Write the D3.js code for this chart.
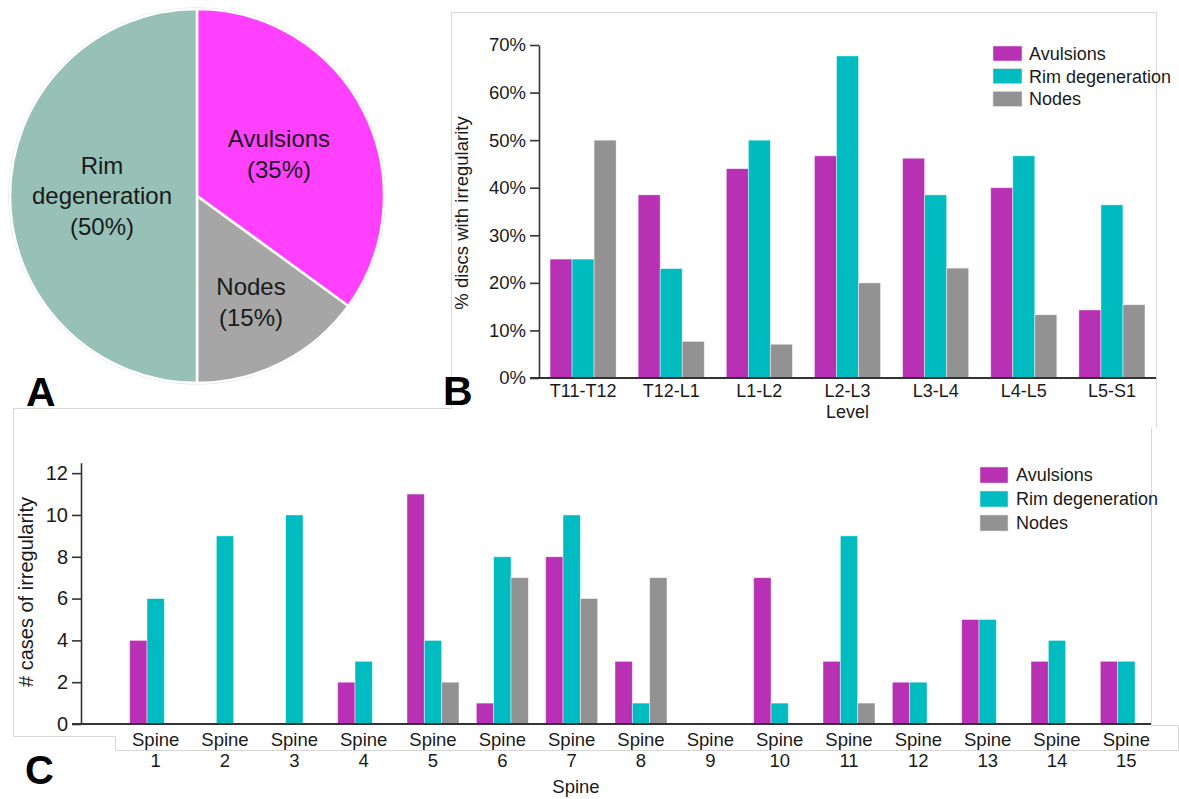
<!DOCTYPE html>
<html><head><meta charset="utf-8">
<script src="https://cdn.jsdelivr.net/npm/d3@7"></script>
<style>
body{margin:0;background:#fff}
text{font-family:"Liberation Sans",Arial,Helvetica,sans-serif;fill:#1a1a1a}
</style>
</head><body>
<svg id="chart" width="1179" height="799"></svg>
<script>
// ---------- data ----------
const pieCategories = ["Avulsions", "Nodes", "Rim degeneration"];
const pieValues = [35, 15, 50];
const pieLabelLines = [["Avulsions", "(35%)"], ["Nodes", "(15%)"], ["Rim", "degeneration", "(50%)"]];

const seriesNames = ["Avulsions", "Rim degeneration", "Nodes"];

const levels = ["T11-T12", "T12-L1", "L1-L2", "L2-L3", "L3-L4", "L4-L5", "L5-S1"];
const levelAvulsions = [0.25, 0.385, 0.44, 0.467, 0.462, 0.40, 0.143];
const levelRim = [0.25, 0.23, 0.50, 0.677, 0.385, 0.467, 0.364];
const levelNodes = [0.50, 0.077, 0.071, 0.20, 0.231, 0.133, 0.154];
const levelTicks = [0, 0.1, 0.2, 0.3, 0.4, 0.5, 0.6, 0.7];

const spines = ["1", "2", "3", "4", "5", "6", "7", "8", "9", "10", "11", "12", "13", "14", "15"];
const spineAvulsions = [4, 0, 0, 2, 11, 1, 8, 3, 0, 7, 3, 2, 5, 3, 3];
const spineRim = [6, 9, 10, 3, 4, 8, 10, 1, 0, 1, 9, 2, 5, 4, 3];
const spineNodes = [0, 0, 0, 0, 2, 7, 6, 7, 0, 0, 1, 0, 0, 0, 0];
const spineTicks = [0, 2, 4, 6, 8, 10, 12];

// ---------- styles ----------
const pieColors = ["#FF40FF", "#A6A6A6", "#97C1B7"];
const barColors = ["#B830B4", "#00BCC0", "#929292"];
const borderColor = "#d6d6d6";
const axisColor = "#333";

const svg = d3.select("#chart");

// ---------- panel borders ----------
const borders = svg.append("g").attr("fill", "none").attr("stroke", borderColor).attr("stroke-width", 1);
borders.append("path").attr("d", "M13.5,736 L13.5,408.5 L451.5,408.5 L451.5,12.5 L1156.5,12.5 L1156.5,427");
borders.append("path").attr("d", "M1151.5,428 L1151.5,725.5 L1178.5,725.5 L1178.5,750.5 L115.5,750.5 L115.5,736.5 L13.5,736.5");

// ---------- Panel A: pie ----------
const cx = 197, cy = 196, R = 187;
const pieGen = d3.pie().sort(null).value(d => d)(pieValues);
const arc = d3.arc().innerRadius(0).outerRadius(R);
const gA = svg.append("g").attr("transform", `translate(${cx},${cy})`);
gA.append("circle").attr("r", R + 1.2).attr("fill", "none").attr("stroke", "#dcdcdc").attr("stroke-width", 1);
gA.selectAll("path.slice").data(pieGen).join("path")
  .attr("class", "slice")
  .attr("d", arc)
  .attr("fill", (d, i) => pieColors[i])
  .attr("stroke", "#fff").attr("stroke-width", 2.5);
const labelRadii = [92, 119, 95];
pieGen.forEach((d, i) => {
  const a = (d.startAngle + d.endAngle) / 2;
  const c = d3.arc().innerRadius(labelRadii[i]).outerRadius(labelRadii[i]).centroid(d);
  const lines = pieLabelLines[i];
  const lh = 30.7;
  const t = gA.append("text").attr("text-anchor", "middle").attr("font-size", 24);
  lines.forEach((ln, k) => {
    t.append("tspan").attr("x", c[0])
      .attr("y", c[1] + (k - (lines.length - 1) / 2) * lh)
      .attr("dy", "0.35em").text(ln);
  });
});

// ---------- panel letters ----------
const letter = (x, y, s, fs) => svg.append("text").attr("x", x).attr("y", y)
  .attr("font-size", fs).attr("font-weight", "bold").style("fill", "#000").text(s);
letter(26, 406, "A", 41);
letter(443, 405, "B", 41);
letter(25, 784, "C", 40);

// ---------- helper for grouped bars ----------
function groupedBars(g, cats, seriesArr, x, x1, y) {
  cats.forEach((c, ci) => {
    seriesArr.forEach((vals, si) => {
      const v = vals[ci];
      if (v <= 0) return;
      g.append("rect")
        .attr("x", x(c) + x1(seriesNames[si]))
        .attr("y", y(v))
        .attr("width", x1.bandwidth())
        .attr("height", y(0) - y(v))
        .attr("fill", barColors[si])
        .attr("stroke", "#ffffff").attr("stroke-opacity", 0.55).attr("stroke-width", 0.8);
    });
  });
}

function legend(g, x0, y0, step, sw, sh, tx) {
  seriesNames.forEach((n, i) => {
    g.append("rect").attr("x", x0).attr("y", y0 + i * step).attr("width", sw).attr("height", sh)
      .attr("fill", barColors[i]).attr("stroke", "#ddd").attr("stroke-width", 0.6);
    g.append("text").attr("x", tx).attr("y", y0 + i * step + sh / 2).attr("dy", "0.36em")
      .attr("font-size", 18).text(n);
  });
}

// ---------- Panel B ----------
const gB = svg.append("g");
const xB = d3.scaleBand().domain(levels).range([539, 1156]).paddingInner(0.25).paddingOuter(0.125);
const xB1 = d3.scaleBand().domain(seriesNames).range([0, xB.bandwidth()]);
const yB = d3.scaleLinear().domain([0, 0.7]).range([378, 45]);

groupedBars(gB, levels, [levelAvulsions, levelRim, levelNodes], xB, xB1, yB);

const yAxisB = gB.append("g").attr("transform", "translate(539,0)")
  .call(d3.axisLeft(yB).tickValues(levelTicks).tickFormat(d3.format(".0%")).tickSize(9).tickSizeOuter(0).tickPadding(4));
yAxisB.selectAll("text").attr("font-size", 18.5).attr("font-family", null).style("fill", "#1a1a1a");
yAxisB.selectAll("line,path").attr("stroke", axisColor).attr("stroke-width", 1.6);
yAxisB.attr("font-family", null);

const xAxisB = gB.append("g").attr("transform", "translate(0,378)")
  .call(d3.axisBottom(xB).tickSize(0).tickPadding(6));
xAxisB.select(".domain").remove();
xAxisB.attr("font-family", null);
xAxisB.selectAll("text").attr("font-size", 18).style("fill", "#1a1a1a");
gB.append("line").attr("x1", 530).attr("x2", 1156).attr("y1", 378).attr("y2", 378)
  .attr("stroke", axisColor).attr("stroke-width", 2);

gB.append("text").attr("x", xB("L2-L3") + xB.bandwidth() / 2).attr("y", 418)
  .attr("text-anchor", "middle").attr("font-size", 18).text("Level");
gB.append("text").attr("transform", "translate(468,213) rotate(-90)")
  .attr("text-anchor", "middle").attr("font-size", 18.5).text("% discs with irregularity");

legend(gB, 993, 46, 22.7, 29, 15, 1029);

// ---------- Panel C ----------
const gC = svg.append("g");
const xC = d3.scaleBand().domain(spines).range([121, 1161]).paddingInner(0.25).paddingOuter(0.125);
const xC1 = d3.scaleBand().domain(seriesNames).range([0, xC.bandwidth()]);
const yC = d3.scaleLinear().domain([0, 12.5]).range([724, 462.7]);

groupedBars(gC, spines, [spineAvulsions, spineRim, spineNodes], xC, xC1, yC);

const yAxisC = gC.append("g").attr("transform", "translate(81,0)")
  .call(d3.axisLeft(yC).tickValues(spineTicks).tickSize(9).tickSizeOuter(0).tickPadding(4));
yAxisC.attr("font-family", null);
yAxisC.selectAll("text").attr("font-size", 20).style("fill", "#1a1a1a");
yAxisC.selectAll("line,path").attr("stroke", axisColor).attr("stroke-width", 1.6);

const xAxisC = gC.append("g").attr("transform", "translate(0,724)")
  .call(d3.axisBottom(xC).tickSize(0).tickPadding(8.5));
xAxisC.select(".domain").remove();
xAxisC.attr("font-family", null);
xAxisC.selectAll("text").each(function(d) {
  const t = d3.select(this);
  const xx = t.attr("x") || 0;
  t.text(null).attr("font-size", 18.5).style("fill", "#1a1a1a");
  t.append("tspan").attr("x", 0).text("Spine");
  t.append("tspan").attr("x", 0).attr("dy", 21).text(d);
});
gC.append("line").attr("x1", 72).attr("x2", 1151).attr("y1", 724).attr("y2", 724)
  .attr("stroke", axisColor).attr("stroke-width", 2);

gC.append("text").attr("x", 576).attr("y", 793).attr("text-anchor", "middle")
  .attr("font-size", 18.5).text("Spine");
gC.append("text").attr("transform", "translate(33,592) rotate(-90)")
  .attr("text-anchor", "middle").attr("font-size", 20).text("# cases of irregularity");

legend(gC, 980, 467, 24, 28, 16, 1016);
</script>
</body></html>
